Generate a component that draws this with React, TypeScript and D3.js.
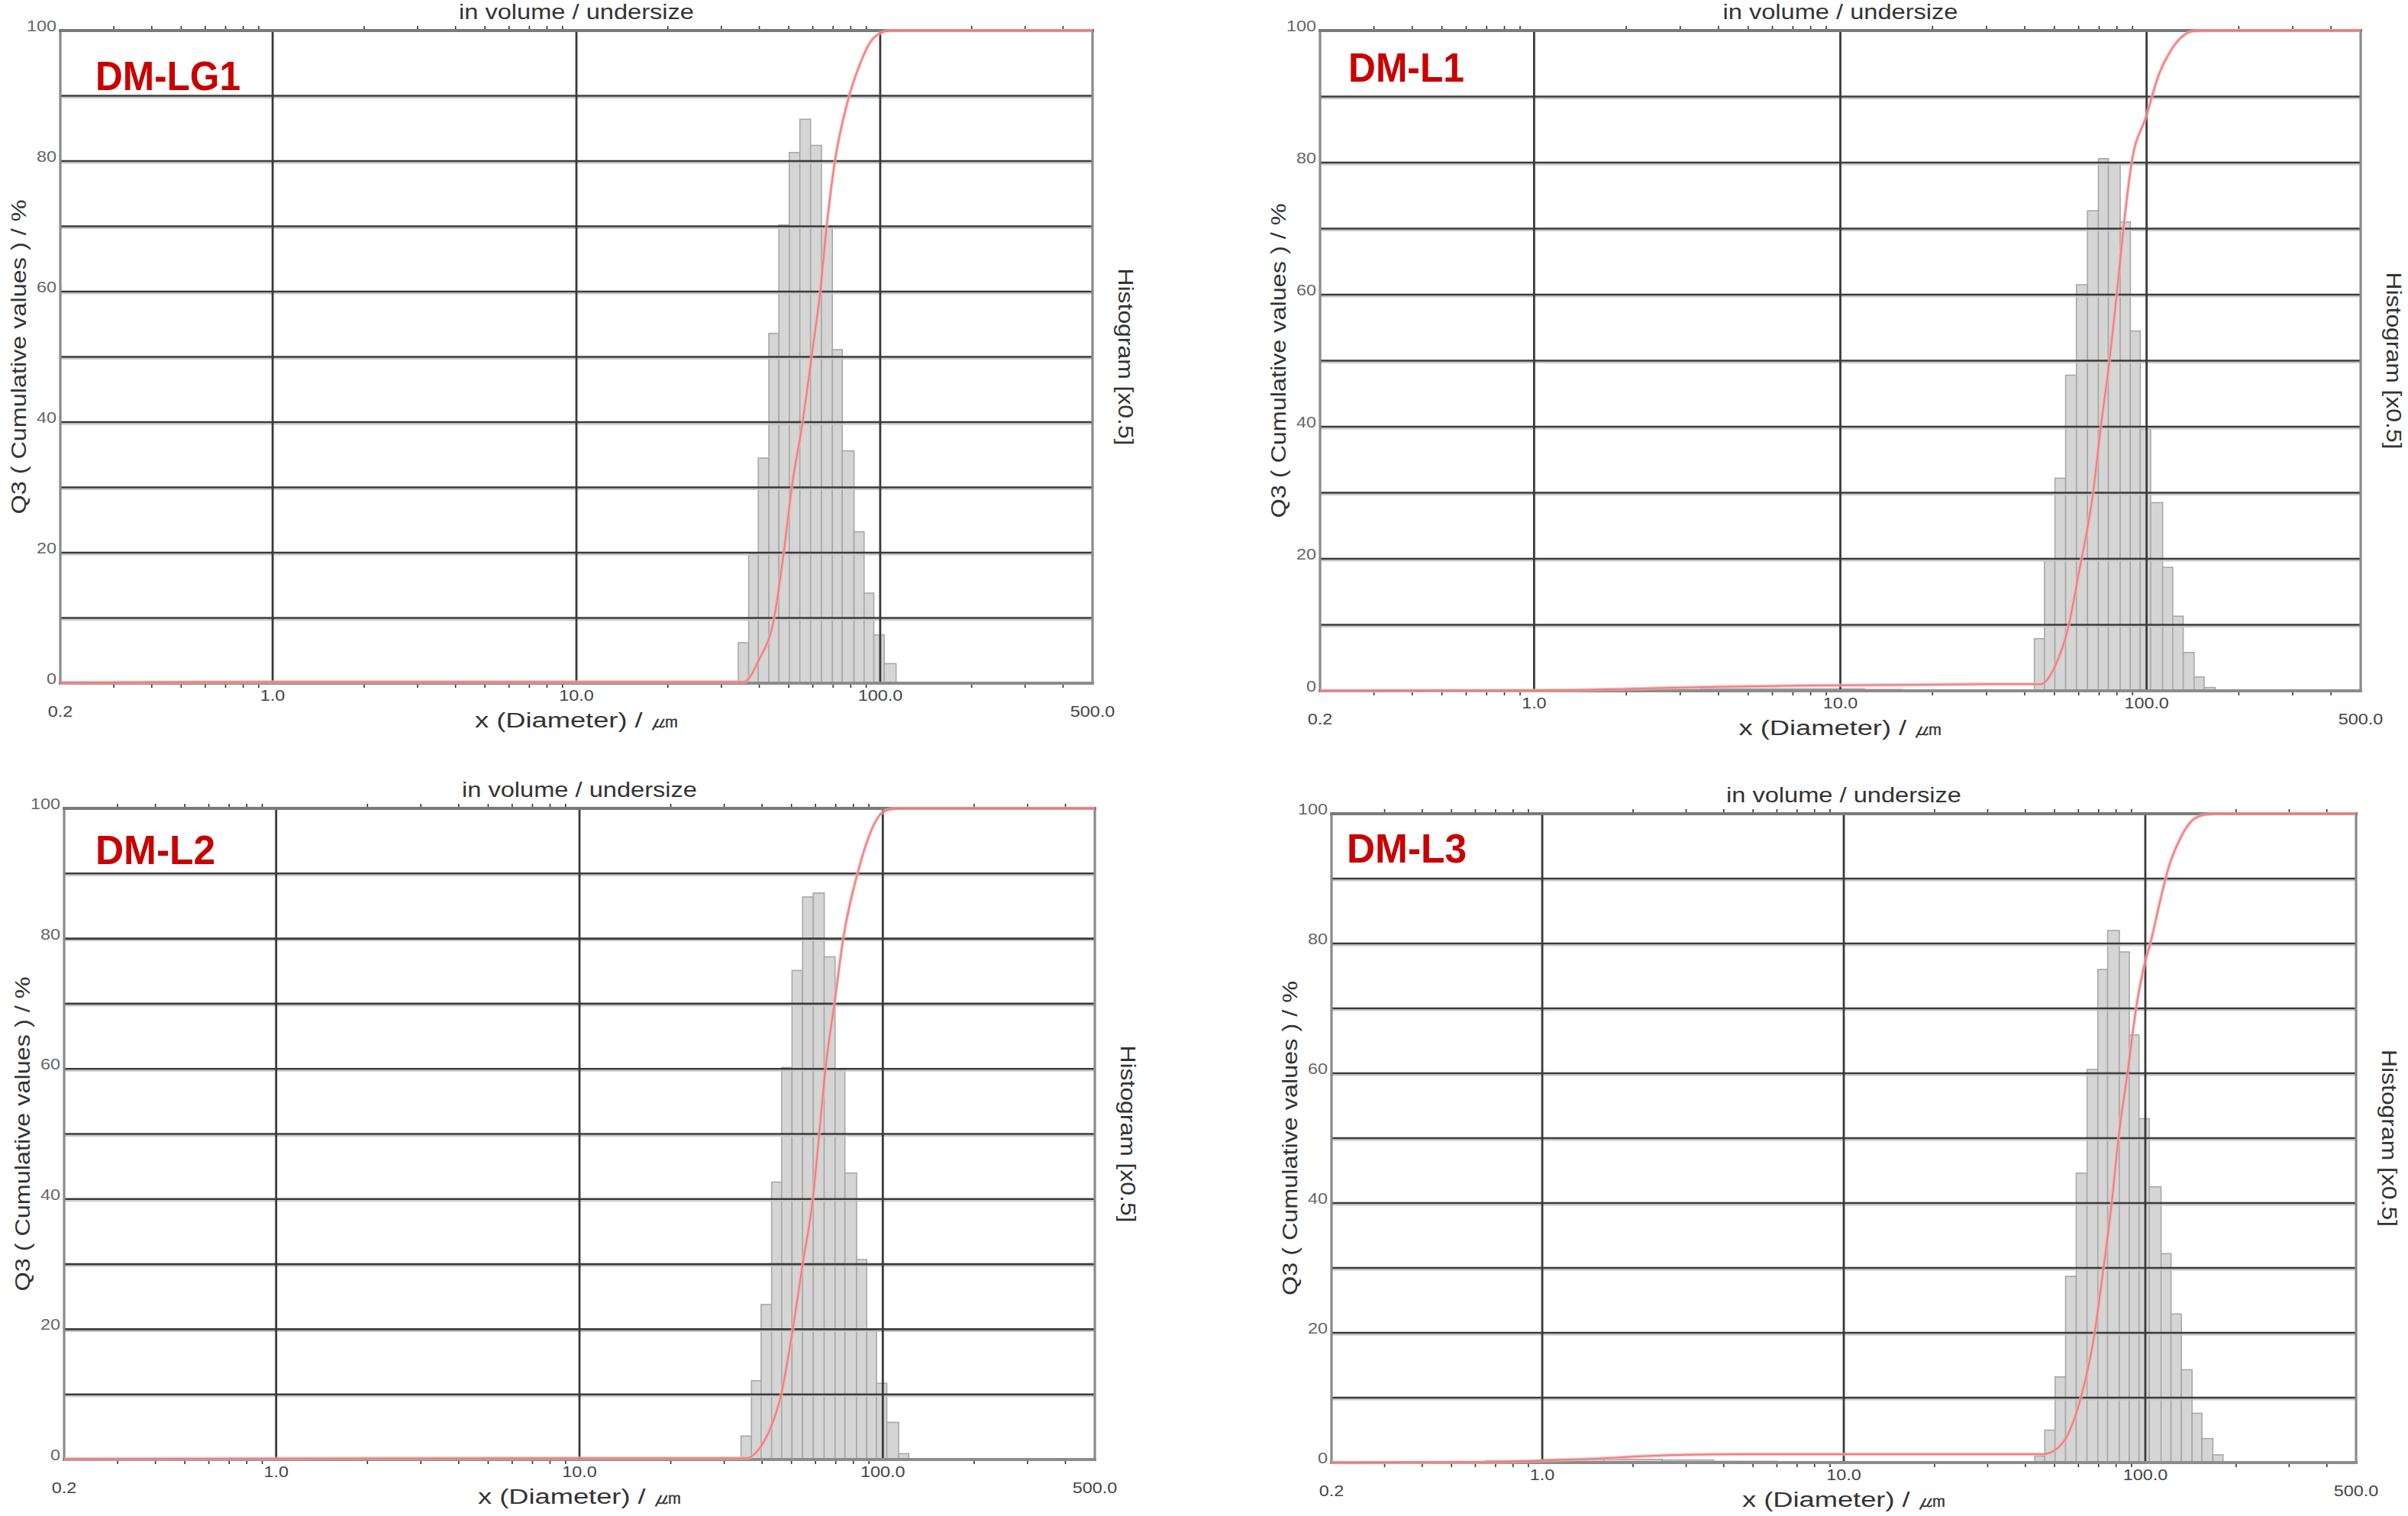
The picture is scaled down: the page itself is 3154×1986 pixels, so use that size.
import React from "react";
import * as d3 from "d3";

// ---------- DATA ----------
// shared histogram class edges (µm)
const BIN_EDGES = [34.1, 36.9, 39.7, 43.0, 46.4, 50.2, 54.4, 59.0, 64.1, 69.6, 75.0, 82.0, 88.5, 95.3, 103.1, 112.8, 121.7, 131.7, 142.9, 154.1, 167.5, 181.0];

// histogram values (Histogram [x0.5]) and index of first class
const LG1_HIST_START = 0;
const LG1_HIST = [6.2, 19.8, 34.5, 53.6, 70.2, 81.3, 86.4, 82.4, 69.9, 51.1, 35.6, 23.2, 13.8, 7.4, 3.0];
const L1_HIST_START = 3;
const L1_HIST = [7.9, 19.7, 32.2, 47.8, 61.5, 72.7, 80.6, 79.9, 71.0, 54.5, 39.6, 28.5, 18.7, 11.3, 5.8, 2.1, 0.5];
const L2_HIST_START = 0;
const L2_HIST = [3.6, 12.1, 23.8, 42.6, 60.2, 75.1, 86.4, 87.0, 77.2, 59.9, 44.0, 30.7, 19.8, 11.7, 5.7, 0.9];
const L3_HIST_START = 3;
const L3_HIST = [1.0, 5.0, 13.2, 28.7, 44.6, 60.6, 76.0, 82.0, 78.7, 65.9, 53.0, 42.5, 32.2, 22.9, 14.3, 7.6, 3.7, 1.2];

// tiny fine-particle classes: [from µm, to µm, value]
const LG1_FINE = [[0.38, 0.5, 0.2], [0.5, 0.63, 0.2]];
const L1_FINE = [[2.3, 3.5, 0.2], [3.5, 5.5, 0.3], [5.5, 8.5, 0.3], [8.5, 12, 0.3], [12, 16, 0.2]];
const L2_FINE: number[][] = [];
const L3_FINE = [[0.65, 1.0, 0.3], [1.0, 1.6, 0.5], [1.6, 2.5, 0.5], [2.5, 3.7, 0.4], [3.7, 6, 0.2], [6, 9, 0.1]];

// cumulative Q3 (diameter µm, %)
const LG1_CUM = [[0.2, 0.1], [1, 0.2], [10, 0.2], [35.5, 0.2], [39.9, 3.6], [44.8, 10.1], [48.0, 19.6], [51.3, 30.4], [55.5, 39.9], [59.8, 50.9], [63.4, 59.8], [66.6, 69.9], [70.9, 79.9], [78, 89], [86, 95], [93, 98.3], [100, 99.6], [108, 100], [500, 100]];
const L1_CUM = [[0.2, 0], [1, 0.05], [2, 0.3], [4, 0.6], [8, 0.8], [15, 0.9], [30, 1.0], [45, 1.0], [50.2, 3.7], [55.6, 9.8], [60.2, 18.1], [66.7, 29.6], [70.8, 39.8], [75.5, 49.7], [79.9, 60], [84.0, 70], [89.3, 79.9], [99.7, 87], [110, 93.5], [120, 97], [130, 99], [142, 99.9], [155, 100], [500, 100]];
const L2_CUM = [[0.2, 0.1], [10, 0.2], [35.5, 0.2], [39.5, 1.9], [42.7, 4.9], [46.2, 9.9], [50.4, 19.8], [54.4, 29.9], [58.8, 40.1], [61.7, 49.9], [64.7, 60], [69.3, 70.1], [74.1, 80.1], [83.2, 90.6], [90, 95.7], [97, 98.8], [104, 99.8], [112, 100], [500, 100]];
const L3_CUM = [[0.2, 0], [0.6, 0.05], [1, 0.3], [1.5, 0.6], [2, 0.9], [3, 1.2], [5, 1.3], [46, 1.3], [49.7, 1.8], [55.3, 4.3], [60.9, 9.7], [67.8, 19.8], [72.6, 29.9], [77.4, 40.1], [81.5, 50.1], [87.3, 60.1], [93.4, 70.3], [100, 77.3], [104, 80.1], [112, 86.6], [120, 92], [130, 96], [140, 98.5], [155, 99.8], [170, 100], [500, 100]];

const SAMPLE_NAMES = ["DM-LG1", "DM-L1", "DM-L2", "DM-L3"];

// axes
const X_DOMAIN = [0.2, 500];
const X_MAJOR = [1, 10, 100];
const X_MAJOR_LABELS = ["1.0", "10.0", "100.0"];
const X_END_LABELS = ["0.2", "500.0"];
const X_MINOR = [0.3, 0.4, 0.5, 0.6, 0.7, 0.8, 0.9, 2, 3, 4, 5, 6, 7, 8, 9, 20, 30, 40, 50, 60, 70, 80, 90, 200, 300, 400];
const Y_GRID = [10, 20, 30, 40, 50, 60, 70, 80, 90];
const Y_LABELS = [0, 20, 40, 60, 80, 100];

const TITLE = "in volume / undersize";
const X_TITLE = "x (Diameter) / \u339B";
const Y_TITLE = "Q3 ( Cumulative values ) / %";
const Y2_TITLE = "Histogram [x0.5]";

// ---------- LAYOUT ----------
const W = 3154;
const H = 1986;
const FONT = "'Liberation Sans', Arial, Helvetica, sans-serif";

const PANELS = [
  { name: SAMPLE_NAMES[0], start: LG1_HIST_START, hist: LG1_HIST, fine: LG1_FINE, cum: LG1_CUM, x0: 79, x1: 1431, y0: 40, y1: 895, nx: 125, ny: 118, nl: 190 },
  { name: SAMPLE_NAMES[1], start: L1_HIST_START, hist: L1_HIST, fine: L1_FINE, cum: L1_CUM, x0: 1729, x1: 3092, y0: 40, y1: 905, nx: 1766, ny: 107, nl: 152 },
  { name: SAMPLE_NAMES[2], start: L2_HIST_START, hist: L2_HIST, fine: L2_FINE, cum: L2_CUM, x0: 84, x1: 1434, y0: 1059, y1: 1912, nx: 125, ny: 1132, nl: 157 },
  { name: SAMPLE_NAMES[3], start: L3_HIST_START, hist: L3_HIST, fine: L3_FINE, cum: L3_CUM, x0: 1744, x1: 3086, y0: 1066, y1: 1916, nx: 1764, ny: 1130, nl: 157 },
];

function Panel({ p }: { p: any }) {
  const xs = d3.scaleLog().domain(X_DOMAIN).range([p.x0, p.x1]);
  const ys = d3.scaleLinear().domain([0, 100]).range([p.y1, p.y0]);
  const line = d3
    .line<number[]>()
    .x((d) => xs(d[0]))
    .y((d) => ys(d[1]))
    .curve(d3.curveMonotoneX);
  const bars = p.hist.map((v: number, i: number) => ({
    lo: BIN_EDGES[p.start + i],
    hi: BIN_EDGES[p.start + i + 1],
    v,
  }));
  const fine = p.fine.map((f: number[]) => ({ lo: f[0], hi: f[1], v: f[2] }));
  const cx = (p.x0 + p.x1) / 2;
  const cy = (p.y0 + p.y1) / 2;
  const tickFs = 19.5;
  const labelFs = 27;
  const path = line(p.cum) || "";
  return (
    <g>
      {/* histogram bars */}
      {[...fine, ...bars].map((b: any, i: number) => (
        <rect
          key={"b" + i}
          x={xs(b.lo)}
          y={ys(b.v)}
          width={xs(b.hi) - xs(b.lo)}
          height={ys(0) - ys(b.v)}
          fill="#d5d5d5"
          stroke="#a8a8a8"
          strokeWidth={1.6}
        />
      ))}
      {/* horizontal grid */}
      {Y_GRID.map((g) => (
        <g key={"h" + g}>
          <line x1={p.x0} x2={p.x1} y1={ys(g) + 2.5} y2={ys(g) + 2.5} stroke="#c8c8c8" strokeWidth={2} />
          <line x1={p.x0} x2={p.x1} y1={ys(g)} y2={ys(g)} stroke="#3a3a3a" strokeWidth={2.6} />
        </g>
      ))}
      {/* vertical grid */}
      {X_MAJOR.map((g) => (
        <line key={"v" + g} x1={xs(g)} x2={xs(g)} y1={p.y0} y2={p.y1} stroke="#3a3a3a" strokeWidth={2.8} />
      ))}
      {/* minor ticks top & bottom */}
      {X_MINOR.map((t) => (
        <g key={"t" + t}>
          <line x1={xs(t)} x2={xs(t)} y1={p.y0 - 6} y2={p.y0} stroke="#333" strokeWidth={1.6} />
          <line x1={xs(t)} x2={xs(t)} y1={p.y1} y2={p.y1 + 6} stroke="#333" strokeWidth={1.6} />
        </g>
      ))}
      {/* frame */}
      <line x1={p.x0} x2={p.x0} y1={p.y0} y2={p.y1} stroke="#8a8a8a" strokeWidth={3.2} />
      <line x1={p.x1} x2={p.x1} y1={p.y0} y2={p.y1} stroke="#8a8a8a" strokeWidth={3.2} />
      <line x1={p.x0 - 2} x2={p.x1 + 2} y1={p.y0} y2={p.y0} stroke="#7a7a7a" strokeWidth={4} />
      <line x1={p.x0 - 2} x2={p.x1 + 2} y1={p.y1} y2={p.y1} stroke="#8c8c8c" strokeWidth={4} />
      {/* cumulative curve: soft halo + core */}
      <path d={path} fill="none" stroke="#f7b0b0" strokeWidth={4.5} strokeOpacity={0.7} />
      <path d={path} fill="none" stroke="#ee7272" strokeWidth={2} strokeOpacity={0.85} />
      {/* sample name */}
      <text x={p.nx} y={p.ny} fontFamily={FONT} fontWeight="bold" fontSize={53} fill="#c80000" textLength={p.nl} lengthAdjust="spacingAndGlyphs">
        {p.name}
      </text>
      {/* title */}
      <text x={cx} y={p.y0 - 15} fontFamily={FONT} fontSize={labelFs} fill="#333" textAnchor="middle" textLength={308} lengthAdjust="spacingAndGlyphs">
        {TITLE}
      </text>
      {/* y tick labels */}
      {Y_LABELS.map((v) => (
        <text
          key={"yl" + v}
          transform={`translate(${p.x0 - 5},${ys(v) + 1}) scale(1.2,1)`}
          fontFamily={FONT}
          fontSize={tickFs}
          fill="#666"
          textAnchor="end"
        >
          {v}
        </text>
      ))}
      {/* x tick labels */}
      {X_MAJOR.map((t, i) => (
        <text
          key={"xl" + t}
          transform={`translate(${xs(t)},${p.y1 + 23}) scale(1.2,1)`}
          fontFamily={FONT}
          fontSize={tickFs}
          fill="#444"
          textAnchor="middle"
        >
          {X_MAJOR_LABELS[i]}
        </text>
      ))}
      {X_DOMAIN.map((t, i) => (
        <text
          key={"xe" + t}
          transform={`translate(${xs(t)},${p.y1 + 44}) scale(1.2,1)`}
          fontFamily={FONT}
          fontSize={tickFs}
          fill="#444"
          textAnchor="middle"
        >
          {X_END_LABELS[i]}
        </text>
      ))}
      {/* axis titles */}
      <text x={cx} y={p.y1 + 58} fontFamily={FONT} fontSize={labelFs} fill="#333" textAnchor="middle" textLength={266} lengthAdjust="spacingAndGlyphs">
        {X_TITLE}
      </text>
      <text
        transform={`translate(${p.x0 - 52 + 7},${cy}) rotate(-90)`}
        fontFamily={FONT}
        fontSize={labelFs}
        fill="#333"
        textAnchor="middle"
        textLength={412}
        lengthAdjust="spacingAndGlyphs"
      >
        {Y_TITLE}
      </text>
      <text
        transform={`translate(${p.x1 + 41 - 7},${cy}) rotate(90)`}
        fontFamily={FONT}
        fontSize={labelFs}
        fill="#333"
        textAnchor="middle"
        textLength={232}
        lengthAdjust="spacingAndGlyphs"
      >
        {Y2_TITLE}
      </text>
    </g>
  );
}

export default function App() {
  return (
    <svg
      width={W}
      height={H}
      viewBox={`0 0 ${W} ${H}`}
      style={{ position: "absolute", left: 0, top: 0, background: "#fff" }}
    >
      <rect width={W} height={H} fill="#fff" />
      {PANELS.map((p) => (
        <Panel key={p.name} p={p} />
      ))}
    </svg>
  );
}
